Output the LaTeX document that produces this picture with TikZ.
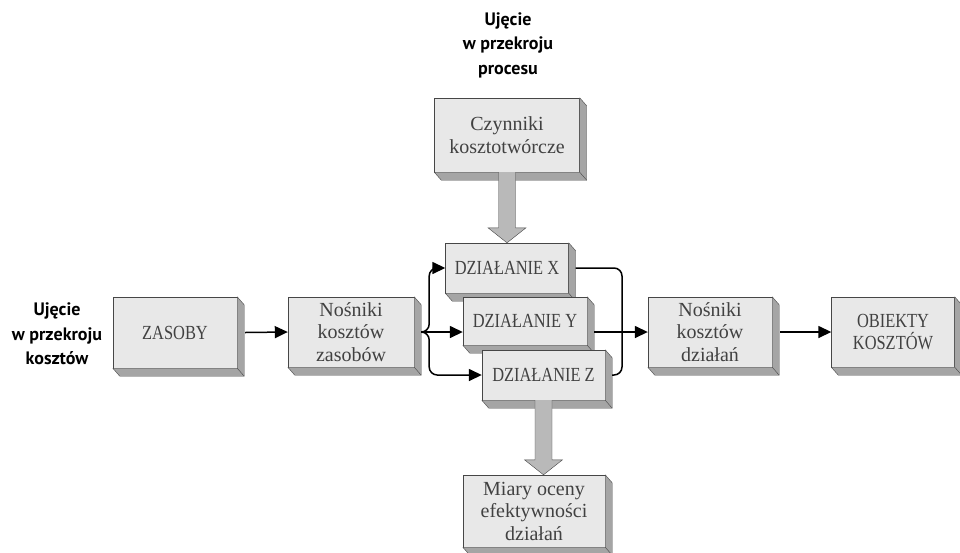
\documentclass[tikz,border=0pt]{standalone}
\usepackage{fontspec}
\setmainfont{Liberation Serif}
\newfontfamily\etykieta{PT Sans}
\newfontfamily\wersaliki[FakeStretch=0.82]{Liberation Serif}
\usepackage{tikz}
\usetikzlibrary{arrows.meta}
\definecolor{BlokFront}{RGB}{232,232,232}
\definecolor{BlokBok}{RGB}{165,165,165}
\definecolor{BlokRama}{RGB}{70,70,70}
\definecolor{BlokTekst}{RGB}{65,65,65}
\definecolor{StrzalkaSzara}{RGB}{185,185,185}
\newcommand\bryla[1]{%
  \filldraw[fill=BlokBok,draw=BlokRama,line join=round] (#1.north east) -- ([shift={(7,8)}]#1.north east)
     -- ([shift={(7,8)}]#1.south east) -- ([shift={(7,8)}]#1.south west) -- (#1.south west) -- (#1.south east) -- cycle;
  \draw[BlokRama] (#1.south east) -- ([shift={(7,8)}]#1.south east);}

\begin{document}
\begin{tikzpicture}[x=1pt,y=-1pt,
    blok/.style={draw=BlokRama,fill=BlokFront,text=BlokTekst,align=center,inner sep=1pt,
       font=\fontsize{20}{22.5}\selectfont},
    duze/.style={blok,font=\wersaliki\fontsize{20}{22}\selectfont},
    opis/.style={align=center,font=\etykieta\bfseries\fontsize{18}{24.5}\selectfont},
    linia/.style={line width=1.5pt,rounded corners=8pt},
    strz/.style={linia,-{Triangle[length=13pt,width=12pt]}},
    gruba/.style={fill=StrzalkaSzara,draw=BlokRama,line join=miter}]
    \useasboundingbox (0,0) rectangle (960,552);
    \node[opis] (proces) at (508,45) {Ujęcie\\w przekroju\\procesu};
    \node[opis] (koszty) at (57,334) {Ujęcie\\w przekroju\\kosztów};
    \node[blok,minimum width=145,minimum height=74] (czyn) at (507,135) {Czynniki\\kosztotwórcze};
    \bryla{czyn}
    \node[duze,minimum width=124,minimum height=71] (zasoby) at (175,332.5) {ZASOBY};
    \bryla{zasoby}
    \node[blok,minimum width=126,minimum height=70] (nkz) at (351,332) {Nośniki\\kosztów\\zasobów};
    \bryla{nkz}
    \node[duze,minimum width=123,minimum height=50] (dzx) at (507,268) {DZIAŁANIE X};
    \bryla{dzx}
    \node[duze,minimum width=124,minimum height=48] (dzy) at (525,321) {DZIAŁANIE Y};
    \bryla{dzy}
    \node[duze,minimum width=123,minimum height=50] (dzz) at (543.5,375) {DZIAŁANIE Z};
    \bryla{dzz}
    \node[blok,minimum width=142,minimum height=72] (miary) at (534,511) {Miary oceny\\efektywności\\działań};
    \bryla{miary}
    \node[blok,minimum width=124,minimum height=70] (nkd) at (710,332) {Nośniki\\kosztów\\działań};
    \bryla{nkd}
    \node[duze,minimum width=123,minimum height=70] (obiekty) at (893,332) {OBIEKTY\\KOSZTÓW};
    \bryla{obiekty}
    \coordinate (gora) at (dzx.north);
    \coordinate (dol) at (dzz.south |- miary.north);
    \coordinate (zbieg) at (622,332);
    \filldraw[gruba] ([xshift=-8.5pt]czyn.south) -- ([shift={(-8.5,-15)}]gora) -- ([shift={(-19,-15)}]gora)
       -- (gora) -- ([shift={(19,-15)}]gora) -- ([shift={(8.5,-15)}]gora) -- ([xshift=8.5pt]czyn.south);
    \filldraw[gruba] ([xshift=-8.5pt]dzz.south) -- ([shift={(-8.5,-15)}]dol) -- ([shift={(-19,-15)}]dol)
       -- (dol) -- ([shift={(19,-15)}]dol) -- ([shift={(8.5,-15)}]dol) -- ([xshift=8.5pt]dzz.south);
    \draw[strz] ([xshift=8pt]zasoby.east) -- (nkz.west);
    \draw[strz] ([xshift=8pt]nkz.east) -- ++(7,0) |- (dzx.west);
    \draw[strz] ([xshift=8pt]nkz.east) -- (nkz.east -| dzy.west);
    \draw[strz] ([xshift=8pt]nkz.east) -- ++(7,0) |- (dzz.west);
    \draw[linia] ([xshift=7pt]dzx.east) -| (zbieg) |- ([xshift=7pt]dzz.east);
    \draw[strz] ([xshift=7pt]dzy.east |- nkd.west) -- (nkd.west);
    \draw[strz] ([xshift=8pt]nkd.east) -- (obiekty.west);
\end{tikzpicture}
\end{document}
